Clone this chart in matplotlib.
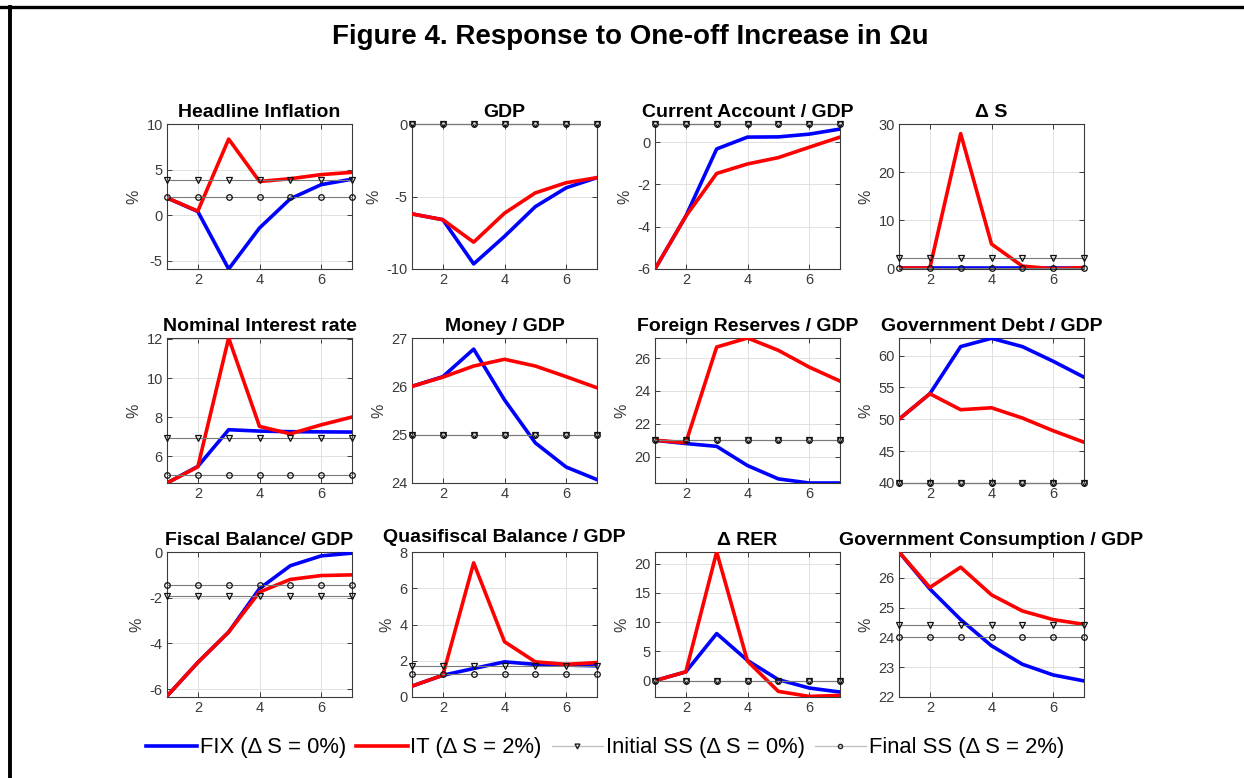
import matplotlib
matplotlib.use('Agg')
import matplotlib.pyplot as plt
from matplotlib.lines import Line2D

plt.rcParams['font.family'] = ['Liberation Sans', 'DejaVu Sans']
plt.rcParams['axes.unicode_minus'] = False

periods = [1, 2, 3, 4, 5, 6, 7]
panel_titles = ['Headline Inflation', 'GDP', 'Current Account / GDP', 'Δ S',
                'Nominal Interest rate', 'Money / GDP', 'Foreign Reserves / GDP',
                'Government Debt / GDP', 'Fiscal Balance/ GDP', 'Quasifiscal Balance / GDP',
                'Δ RER', 'Government Consumption / GDP']

fix_inflation = [1.9, 0.4, -5.9, -1.4, 1.8, 3.35, 3.95]
it_inflation = [1.9, 0.45, 8.35, 3.7, 4.0, 4.45, 4.7]
fix_gdp = [-6.2, -6.6, -9.65, -7.75, -5.7, -4.4, -3.7]
it_gdp = [-6.2, -6.6, -8.15, -6.15, -4.75, -4.05, -3.7]
fix_ca = [-6.0, -3.5, -0.32, 0.24, 0.25, 0.38, 0.62]
it_ca = [-6.0, -3.5, -1.48, -1.03, -0.73, -0.24, 0.24]
fix_ds = [0.0, 0.0, 0.0, 0.0, 0.0, 0.0, 0.0]
it_ds = [0.0, 0.0, 28.0, 5.0, 0.4, -0.15, 0.1]
fix_rate = [4.62, 5.47, 7.35, 7.28, 7.25, 7.24, 7.23]
it_rate = [4.62, 5.45, 12.05, 7.52, 7.14, 7.6, 8.0]
fix_money = [26.0, 26.2, 26.77, 25.72, 24.83, 24.33, 24.07]
it_money = [26.0, 26.19, 26.42, 26.56, 26.42, 26.2, 25.97]
fix_reserves = [21.0, 20.8, 20.63, 19.46, 18.65, 18.4, 18.4]
it_reserves = [21.0, 20.85, 26.67, 27.22, 26.47, 25.45, 24.6]
fix_debt = [50.0, 54.0, 61.4, 62.7, 61.4, 59.1, 56.6]
it_debt = [50.0, 54.0, 51.5, 51.8, 50.2, 48.2, 46.4]
fix_fiscal = [-6.3, -4.83, -3.5, -1.6, -0.6, -0.17, -0.05]
it_fiscal = [-6.3, -4.83, -3.5, -1.75, -1.2, -1.03, -1.0]
fix_quasi = [0.6, 1.2, 1.57, 1.94, 1.8, 1.76, 1.72]
it_quasi = [0.6, 1.2, 7.4, 3.05, 1.94, 1.8, 1.9]
fix_rer = [0.0, 1.5, 8.05, 3.45, 0.17, -1.26, -1.95]
it_rer = [0.0, 1.5, 22.0, 3.33, -1.84, -2.7, -2.53]
fix_gcons = [26.87, 25.63, 24.6, 23.72, 23.1, 22.74, 22.54]
it_gcons = [26.87, 25.68, 26.36, 25.43, 24.89, 24.6, 24.44]

initial_ss = [3.9, 0.0, 0.86, 2.0, 6.92, 25.0, 21.0, 40.0, -1.92, 1.72, 0.0, 24.42]
final_ss = [2.0, 0.0, 0.86, 0.0, 5.03, 25.0, 21.0, 40.0, -1.45, 1.26, 0.0, 24.0]

fix_series = [fix_inflation, fix_gdp, fix_ca, fix_ds, fix_rate, fix_money,
              fix_reserves, fix_debt, fix_fiscal, fix_quasi, fix_rer, fix_gcons]
it_series = [it_inflation, it_gdp, it_ca, it_ds, it_rate, it_money,
             it_reserves, it_debt, it_fiscal, it_quasi, it_rer, it_gcons]

ylims = [(-5.9, 10), (-10, 0), (-6, 0.86), (-0.2, 30), (4.62, 12.05), (24, 27),
         (18.4, 27.22), (40, 62.75), (-6.34, 0), (0, 8), (-2.8, 22.0), (22, 26.87)]
yticks = [[-5, 0, 5, 10], [-10, -5, 0], [-6, -4, -2, 0], [0, 10, 20, 30],
          [6, 8, 10, 12], [24, 25, 26, 27], [20, 22, 24, 26], [40, 45, 50, 55, 60],
          [-6, -4, -2, 0], [0, 2, 4, 6, 8], [0, 5, 10, 15, 20], [22, 23, 24, 25, 26]]

W, H = 1244, 778
fig = plt.figure(figsize=(W / 100, H / 100), dpi=100)

col_left = [167, 412, 655, 899]
row_top = [124, 338, 552]
ax_w, ax_h = 185, 145

axis_col = '#3a3a3a'
for i in range(12):
    r, c = divmod(i, 4)
    ax = fig.add_axes([col_left[c] / W, 1 - (row_top[r] + ax_h) / H, ax_w / W, ax_h / H])
    ax.plot(periods, fix_series[i], color='#0000ff', lw=2.6, zorder=3)
    ax.plot(periods, it_series[i], color='#ff0000', lw=2.6, zorder=4)
    ax.plot(periods, [initial_ss[i]] * len(periods), color='#7a7a7a', lw=0.8,
            marker='v', ms=4.5, mfc='none', mec='#111111', mew=0.9, zorder=5, clip_on=False)
    ax.plot(periods, [final_ss[i]] * len(periods), color='#7a7a7a', lw=0.8,
            marker='o', ms=4.0, mfc='none', mec='#111111', mew=0.9, zorder=5, clip_on=False)
    ax.set_xlim(1, 7)
    ax.set_ylim(*ylims[i])
    ax.set_xticks([2, 4, 6])
    ax.set_yticks(yticks[i])
    ax.grid(True, color='#dcdcdc', lw=0.6)
    ax.set_axisbelow(True)
    ax.tick_params(direction='in', top=True, right=True, length=3.5, width=0.7,
                   color=axis_col, labelcolor=axis_col, labelsize=10.5, pad=3)
    for sp in ax.spines.values():
        sp.set_color(axis_col)
        sp.set_linewidth(0.8)
    title_pad = 7.5 if i == 9 else 5
    ax.set_title(panel_titles[i], fontsize=14, fontweight='bold', pad=title_pad)
    ax.set_ylabel('%', fontsize=11.5, color=axis_col, labelpad=4)

fig.text(630 / W, 1 - 37 / H, 'Figure 4. Response to One-off Increase in Ωu',
         ha='center', va='center', fontsize=20, fontweight='bold')

handles = [Line2D([], [], color='#0000ff', lw=2.6),
           Line2D([], [], color='#ff0000', lw=2.6),
           Line2D([], [], color='#bdbdbd', lw=0.9, marker='v', ms=3.5, mfc='none', mec='#222222'),
           Line2D([], [], color='#bdbdbd', lw=0.9, marker='o', ms=3.0, mfc='none', mec='#222222')]
labels = ['FIX (Δ S = 0%)', 'IT (Δ S = 2%)', 'Initial SS (Δ S = 0%)', 'Final SS (Δ S = 2%)']
fig.legend(handles, labels, loc='center', bbox_to_anchor=(605 / W, 1 - 748 / H), ncol=4,
           frameon=False, fontsize=15.8, handlelength=2.35, handletextpad=0.12,
           columnspacing=0.45)

fig.add_artist(Line2D([0, 1], [1 - 7 / H, 1 - 7 / H], transform=fig.transFigure,
                      color='black', lw=2.4))
fig.add_artist(Line2D([10 / W, 10 / W], [0, 1 - 7 / H], transform=fig.transFigure,
                      color='black', lw=2.8))

fig.savefig('out.png', dpi=100)
